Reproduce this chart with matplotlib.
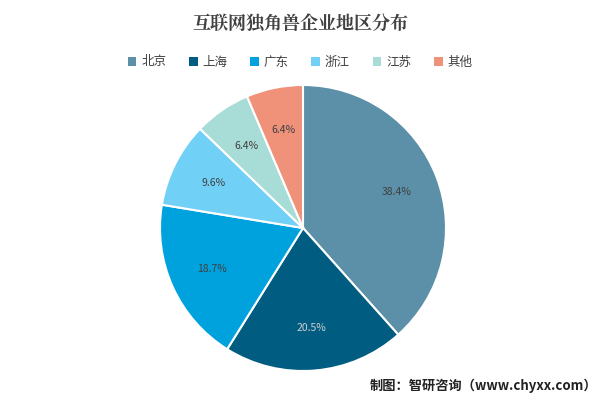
import matplotlib
matplotlib.use("Agg")
import matplotlib.pyplot as plt
from matplotlib.patches import Patch
import numpy as np

plt.rcParams['font.family'] = ['Noto Sans CJK SC', 'DejaVu Sans']

categories = ['北京', '上海', '广东', '浙江', '江苏', '其他']
values = [38.4, 20.5, 18.7, 9.6, 6.4, 6.4]
colors = ['#5B90A8', '#005C80', '#00A2DE', '#70D0F6', '#A8DCD7', '#F0917A']
label_colors = ['#404040', '#D0D0D0', '#404040', '#404040', '#404040', '#404040']

fig = plt.figure(figsize=(6, 4), dpi=100)
ax = fig.add_axes([303/600 - 143/600, 1 - (228+143)/400, 286/600, 286/400])
ax.pie(values, colors=colors, startangle=90, counterclock=False,
       wedgeprops=dict(edgecolor='white', linewidth=1.5))
cum = 0
for v, lc in zip(values, label_colors):
    mid = 90 - (cum + v/2) * 3.6
    cum += v
    r = 0.7
    ax.text(r*np.cos(np.radians(mid)), r*np.sin(np.radians(mid)), f'{v}%',
            ha='center', va='center', fontsize=7.5, color=lc)
ax.set_aspect('equal')
ax.set_xlim(-1, 1); ax.set_ylim(-1, 1)

fig.text(0.5, 0.94, '互联网独角兽企业地区分布', ha='center', va='center',
         fontsize=13, fontweight='bold', color='#404040',
         family=['Noto Serif CJK SC', 'Noto Sans CJK SC', 'DejaVu Sans'])
handles = [Patch(facecolor=c, label=l) for c, l in zip(colors, categories)]
fig.legend(handles=handles, loc='center', bbox_to_anchor=(0.5, 0.845), ncol=6,
           frameon=False, fontsize=9, handlelength=0.7, handleheight=0.7,
           columnspacing=1.8, handletextpad=0.4, labelcolor='#404040')
fig.text(0.995, 0.035, '制图：智研咨询（www.chyxx.com）', ha='right', va='center',
         fontsize=9.5, fontweight='bold', color='#222222')
fig.savefig('out.png', dpi=100)
